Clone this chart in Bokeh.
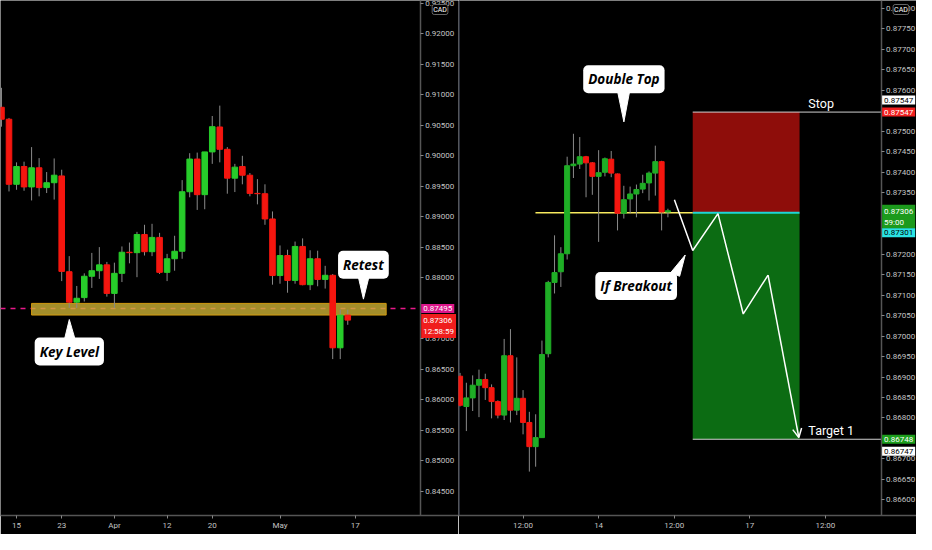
from bokeh.plotting import figure
from bokeh.models import Range1d, FixedTicker, Label, Arrow, OpenHead, NumeralTickFormatter
from bokeh.layouts import row
from bokeh.embed import file_html
from bokeh.resources import INLINE

# ---------------- Daily chart (left) ----------------
d_idx = list(range(-2, 45))
d_open = [0.90796, 0.90600, 0.89533, 0.89825, 0.89490, 0.89804, 0.89479, 0.89559, 0.89670, 0.88100,
          0.87600, 0.87675, 0.88025, 0.88116, 0.88212, 0.87744, 0.88073, 0.88419, 0.88412, 0.88710,
          0.88428, 0.88662, 0.88089, 0.88312, 0.88435, 0.89411, 0.89947, 0.89363, 0.90064, 0.90473,
          0.90107, 0.89634, 0.89825, 0.89682, 0.89384, 0.89379, 0.88965, 0.88037, 0.88365, 0.87957,
          0.88514, 0.87887, 0.88312, 0.87973, 0.88041, 0.86852, 0.87388]
d_high = [0.91115, 0.90621, 0.89893, 0.89904, 0.90143, 0.89963, 0.89734, 0.89957, 0.89772, 0.88355,
          0.87866, 0.88073, 0.88408, 0.88503, 0.88260, 0.88248, 0.88514, 0.88578, 0.88753, 0.88869,
          0.88885, 0.88737, 0.88392, 0.88689, 0.89602, 0.90043, 0.90053, 0.90064, 0.90653, 0.90823,
          0.90143, 0.89868, 0.90000, 0.89718, 0.89618, 0.89533, 0.89088, 0.88530, 0.88460, 0.88594,
          0.88646, 0.88451, 0.88444, 0.88196, 0.88062, 0.87479, 0.87479]
d_low = [0.90478, 0.89416, 0.89443, 0.89427, 0.89268, 0.89336, 0.89390, 0.89283, 0.87946, 0.87505,
         0.87505, 0.87611, 0.87834, 0.87982, 0.87691, 0.87505, 0.87930, 0.88237, 0.88010, 0.88365,
         0.88355, 0.88062, 0.87946, 0.88116, 0.88312, 0.89320, 0.89113, 0.89124, 0.89868, 0.89893,
         0.89379, 0.89406, 0.89533, 0.89336, 0.89204, 0.88869, 0.87887, 0.87903, 0.87755, 0.87903,
         0.87877, 0.87798, 0.87861, 0.87823, 0.86667, 0.86667, 0.87229]
d_close = [0.90600, 0.89533, 0.89825, 0.89490, 0.89804, 0.89479, 0.89559, 0.89682, 0.88105, 0.87600,
           0.87664, 0.88025, 0.88116, 0.88212, 0.87744, 0.88073, 0.88419, 0.88412, 0.88710, 0.88428,
           0.88662, 0.88089, 0.88312, 0.88435, 0.89411, 0.89947, 0.89363, 0.90064, 0.90478, 0.90107,
           0.89634, 0.89814, 0.89682, 0.89384, 0.89379, 0.88965, 0.88037, 0.88365, 0.87957, 0.88514,
           0.87887, 0.88312, 0.87973, 0.88041, 0.86852, 0.87388, 0.87306]
d_tick_pos = [0, 6, 13, 20, 26, 35, 45]
d_tick_text = ["15", "23", "Apr", "12", "20", "May", "17"]
d_price_ticks = [0.925, 0.920, 0.915, 0.910, 0.905, 0.900, 0.895, 0.890, 0.885, 0.880,
                 0.870, 0.865, 0.860, 0.855, 0.850, 0.845]
key_level_low, key_level_high = 0.87389, 0.87580
key_zone_from, key_zone_to = 2.0, 49.1
alert_level = 0.87495
d_last = 0.87306

# ---------------- Hourly chart (right) ----------------
h_idx = list(range(-10, 24))
h_open = [0.86902, 0.86828, 0.86849, 0.86880, 0.86894, 0.86874, 0.86840, 0.86807, 0.86952, 0.86819,
          0.86848, 0.86789, 0.86730, 0.86752, 0.86957, 0.87131, 0.87157, 0.87201, 0.87416, 0.87420,
          0.87438, 0.87423, 0.87390, 0.87400, 0.87432, 0.87396, 0.87300, 0.87335, 0.87347, 0.87359,
          0.87374, 0.87398, 0.87426, 0.87303]
h_high = [0.86910, 0.86886, 0.86904, 0.86918, 0.86908, 0.86882, 0.86843, 0.86993, 0.87017, 0.86948,
          0.86868, 0.86815, 0.86809, 0.86989, 0.87135, 0.87246, 0.87217, 0.87438, 0.87494, 0.87486,
          0.87440, 0.87425, 0.87454, 0.87436, 0.87452, 0.87397, 0.87367, 0.87365, 0.87370, 0.87394,
          0.87402, 0.87465, 0.87428, 0.87311]
h_low = [0.86828, 0.86768, 0.86817, 0.86802, 0.86844, 0.86799, 0.86799, 0.86795, 0.86789, 0.86807,
         0.86760, 0.86669, 0.86681, 0.86752, 0.86948, 0.87104, 0.87120, 0.87187, 0.87386, 0.87408,
         0.87339, 0.87345, 0.87230, 0.87390, 0.87388, 0.87258, 0.87287, 0.87300, 0.87290, 0.87349,
         0.87331, 0.87343, 0.87258, 0.87290]
h_close = [0.86831, 0.86849, 0.86880, 0.86894, 0.86874, 0.86840, 0.86807, 0.86952, 0.86819, 0.86848,
           0.86789, 0.86730, 0.86752, 0.86955, 0.87131, 0.87155, 0.87201, 0.87416, 0.87420, 0.87438,
           0.87423, 0.87390, 0.87399, 0.87433, 0.87398, 0.87300, 0.87333, 0.87347, 0.87358, 0.87373,
           0.87398, 0.87426, 0.87303, 0.87306]
h_tick_pos = [0, 12, 24, 36, 48]
h_tick_text = ["12:00", "14", "12:00", "17", "12:00"]
h_price_ticks = [0.8780, 0.8775, 0.8770, 0.8765, 0.8760, 0.8750, 0.8745, 0.8740, 0.8735, 0.8720,
                 0.8715, 0.8710, 0.8705, 0.8700, 0.8695, 0.8690, 0.8685, 0.8680, 0.8670, 0.8665, 0.8660]
stop_price, entry_price, target_price = 0.87547, 0.87301, 0.86748
pos_from, pos_to = 26.94, 43.9
neck_from = 1.97
path_x = [24.03, 26.94, 30.95, 34.96, 38.90, 43.79]
path_y = [0.87333, 0.87209, 0.87299, 0.87054, 0.87149, 0.86752]

UP_L, UP_R, DOWN = "#27cc2a", "#1fae26", "#f5160f"
WICK = "#8a8a8a"
TXT = "#c4c4c4"
FONT = "Roboto"

# axis line positions (data units) of each panel
L_AXIS, R_AXIS = 53.62, 56.85


def make_fig(xr, yr, axis_at):
    p = figure(width=458, height=534, x_range=xr, y_range=yr, y_axis_location="right",
               output_backend="svg", toolbar_location=None,
               min_border_left=0, min_border_right=0, min_border_top=0, min_border_bottom=19)
    p.background_fill_color = "black"
    p.border_fill_color = "black"
    p.outline_line_color = None
    p.xgrid.visible = False
    p.ygrid.visible = False
    p.yaxis.fixed_location = axis_at
    for ax in p.axis:
        ax.axis_line_color = "#555555"
        ax.axis_line_width = 1.5
        ax.major_tick_line_color = "#888888"
        ax.major_tick_out = 3
        ax.major_tick_in = 0
        ax.minor_tick_line_color = None
        ax.major_label_text_color = TXT
        ax.major_label_text_font_size = "8px"
        ax.major_label_text_font = FONT
        ax.major_label_standoff = 2
    return p


def candles(p, x, o, h, l, c, w, up):
    top = [max(a, b) for a, b in zip(o, c)]
    bot = [min(a, b) for a, b in zip(o, c)]
    col = [up if cc >= oo else DOWN for oo, cc in zip(o, c)]
    p.segment(x0=x, x1=x, y0=l, y1=h, line_color=WICK, line_width=1)
    p.vbar(x=x, width=w, top=top, bottom=bot, fill_color=col, line_color=col)


def tag(p, x, y, text, bg, fg, dy=0, baseline="middle"):
    p.add_layout(Label(x=x, y=y, text=text, x_offset=1, y_offset=dy, text_align="left",
                       text_baseline=baseline, text_font=FONT, text_font_size="8px",
                       text_color=fg, background_fill_color=bg, padding=2))


def cad(p, x):
    p.add_layout(Label(x=x, y=p.y_range.end, text="CAD", x_offset=12, y_offset=-14,
                       text_font=FONT, text_font_size="7px", text_color="white",
                       background_fill_color="black", border_line_color="#666666",
                       border_radius=2, padding=1))


def bubble(p, x, y, text, tri_x, tri_y):
    p.patch(tri_x, tri_y, fill_color="white", line_color="white")
    p.add_layout(Label(x=x, y=y, text=text, text_align="center", text_baseline="middle",
                       text_font="Open Sans", text_font_style="bold italic",
                       text_font_size="13.5px", text_color="black",
                       background_fill_color="white", border_radius=5, padding=5))


# ---------- left figure ----------
p1 = make_fig(Range1d(-2.13, 58.71), Range1d(0.84102, 0.92547), L_AXIS)
p1.xaxis.ticker = FixedTicker(ticks=d_tick_pos)
p1.xaxis.major_label_overrides = dict(zip(d_tick_pos, d_tick_text))
p1.yaxis.ticker = FixedTicker(ticks=d_price_ticks)
p1.yaxis.formatter = NumeralTickFormatter(format="0.00000")

p1.segment(x0=[p1.x_range.start], x1=[L_AXIS], y0=[alert_level], y1=[alert_level],
           line_color="#e8198a", line_width=1.5, line_dash="5 5")
p1.quad(left=[key_zone_from], right=[key_zone_to], bottom=[key_level_low], top=[key_level_high],
        fill_color="#cdb234", fill_alpha=0.8, line_color="#d49b10", line_width=1)
candles(p1, d_idx, d_open, d_high, d_low, d_close, 0.74, UP_L)

bubble(p1, 7.01, 0.86790, "Key Level", [6.36, 7.79, 7.01], [0.86986, 0.86986, 0.87316])
bubble(p1, 46.08, 0.88213, "Retest", [45.39, 46.83, 46.08], [0.88022, 0.88022, 0.87650])

tag(p1, L_AXIS, alert_level, "0.87495", "#dc168a", "white")
tag(p1, L_AXIS, d_last, "0.87306\n12:58:59", "#f01d1d", "white", dy=6, baseline="top")
cad(p1, L_AXIS)

# ---------- right figure ----------
p2 = make_fig(Range1d(-10.25, 62.47), Range1d(0.865618, 0.878195), R_AXIS)
p2.xaxis.ticker = FixedTicker(ticks=h_tick_pos)
p2.xaxis.major_label_overrides = dict(zip(h_tick_pos, h_tick_text))
p2.yaxis.ticker = FixedTicker(ticks=h_price_ticks)
p2.yaxis.formatter = NumeralTickFormatter(format="0.00000")
p2.vspan(x=[p2.x_range.start], line_color="#2a2e39", line_width=3)

p2.quad(left=[pos_from], right=[pos_to], bottom=[entry_price], top=[stop_price],
        fill_color="#8e0d0a", line_color=None)
p2.quad(left=[pos_from], right=[pos_to], bottom=[target_price], top=[entry_price],
        fill_color="#0c6c13", line_color=None)
p2.segment(x0=[pos_from], x1=[pos_to], y0=[entry_price], y1=[entry_price],
           line_color="#1fd6d6", line_width=2)
p2.segment(x0=[pos_from, pos_from], x1=[R_AXIS, R_AXIS], y0=[stop_price, target_price],
           y1=[stop_price, target_price], line_color="#d0d0d0", line_width=1)
p2.segment(x0=[neck_from], x1=[pos_from], y0=[entry_price], y1=[entry_price],
           line_color="#f7ea5e", line_width=1.5)
candles(p2, h_idx, h_open, h_high, h_low, h_close, 0.8, UP_R)

p2.line(path_x[:-1], path_y[:-1], line_color="white", line_width=1.5)
p2.add_layout(Arrow(x_start=path_x[-2], y_start=path_y[-2], x_end=path_x[-1], y_end=path_y[-1],
                    line_color="white", line_width=1.5,
                    end=OpenHead(size=9, line_color="white", line_width=1.5)))

p2.add_layout(Label(x=45.3, y=stop_price, text="Stop", y_offset=1, text_baseline="bottom",
                    text_font=FONT, text_font_size="12.5px", text_color="white"))
p2.add_layout(Label(x=45.3, y=target_price, text="Target 1", y_offset=1, text_baseline="bottom",
                    text_font=FONT, text_font_size="12.5px", text_color="white"))

bubble(p2, 16.01, 0.87627, "Double Top", [15.03, 16.9, 16.01], [0.87596, 0.87596, 0.87523])
bubble(p2, 17.96, 0.87122, "If Breakout", [23.45, 24.86, 25.75], [0.87155, 0.87146, 0.87198])

tag(p2, R_AXIS, stop_price, "0.87547", "white", "black", dy=12)
tag(p2, R_AXIS, stop_price, "0.87547", "#f22020", "white")
tag(p2, R_AXIS, h_close[-1], "0.87306\n59:00", "#1c9a1c", "white", dy=6, baseline="top")
tag(p2, R_AXIS, entry_price, "0.87301", "#2ae4e4", "black", dy=-20)
tag(p2, R_AXIS, target_price, "0.86748", "#1c9e1c", "white")
tag(p2, R_AXIS, target_price, "0.86747", "white", "black", dy=-12)
cad(p2, R_AXIS)

layout = row(p1, p2)
open("out.html", "w").write(file_html(layout, INLINE))
